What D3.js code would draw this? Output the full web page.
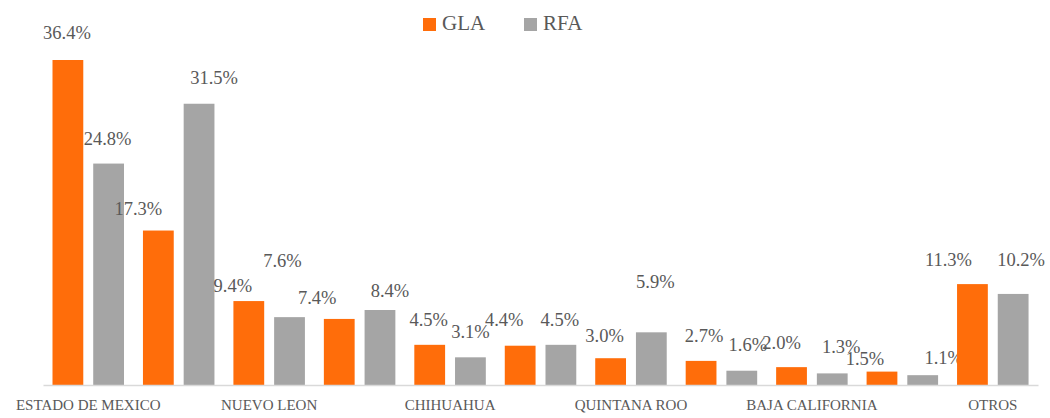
<!DOCTYPE html>
<html><head><meta charset="utf-8">
<script src="https://cdn.jsdelivr.net/npm/d3@7"></script>
<style>html,body{margin:0;padding:0;background:#fff;}svg{display:block;font-family:'Liberation Serif','Times New Roman',serif;}</style>
</head><body>
<script>
// Data
const categories = ["ESTADO DE MEXICO","JALISCO","NUEVO LEON","COAHUILA","CHIHUAHUA","QUERETARO","QUINTANA ROO","GUANAJUATO","BAJA CALIFORNIA","SONORA","OTROS"];
const seriesNames = ["GLA","RFA"];
const glaValues = [36.4,17.3,9.4,7.4,4.5,4.4,3.0,2.7,2.0,1.5,11.3];
const rfaValues = [24.8,31.5,7.6,8.4,3.1,4.5,5.9,1.6,1.3,1.1,10.2];
// label placement offsets (px) relative to bar top centre, as in the reference
const glaLabelDx = [-1,-20,-16,-22,-1,-16,-6,3,-10,-17,-24];
const glaLabelDy = [-25,-20,-13,-19,-23,-24,-20,-23,-22,-11,-22];
const rfaLabelDx = [-1,15,-7,10,0,-1,4,6,9,21,8];
const rfaLabelDy = [-23,-24,-54,-17,-24,-23,-49,-24,-25,-15,-32];

const W = 1050, H = 418;
const FONT = "'Liberation Serif','Times New Roman',serif";
const colors = {GLA:"#FF6D0A", RFA:"#A5A5A5"};
const svg = d3.select("body").append("svg").attr("width",W).attr("height",H);

const x0 = d3.scaleBand().domain(categories).range([43,1038]).paddingInner(0).paddingOuter(0);
const x1 = d3.scaleBand().domain(seriesNames).range([9.5,81]).paddingInner(0.244).paddingOuter(0);
const y = d3.scaleLinear().domain([0,36.4]).range([385,60]);

const rows = categories.map((c,i)=>({cat:c,i,
  vals:[{s:"GLA",v:glaValues[i],dx:glaLabelDx[i],dy:glaLabelDy[i]},{s:"RFA",v:rfaValues[i],dx:rfaLabelDx[i],dy:rfaLabelDy[i]}]}));

const g = svg.selectAll("g.grp").data(rows).join("g").attr("class","grp")
  .attr("transform",d=>`translate(${x0(d.cat)},0)`);
g.selectAll("rect").data(d=>d.vals).join("rect")
  .attr("x",d=>x1(d.s)).attr("width",x1.bandwidth())
  .attr("y",d=>y(d.v)).attr("height",d=>y(0)-y(d.v))
  .attr("fill",d=>colors[d.s]);

// axis
const axis = d3.axisBottom(x0).tickSize(0).tickPadding(0)
  .tickFormat((d,i)=> i%2===0 ? d : "");
const ax = svg.append("g").attr("transform",`translate(0,${y(0)})`).call(axis)
  .attr("font-family",FONT);
ax.select(".domain").attr("stroke","#D9D9D9").attr("stroke-width",1.5);
ax.selectAll("text").attr("dy",0).attr("y",22).attr("dominant-baseline","middle")
  .attr("fill","#595959").style("font-family",FONT).style("font-size","15px");

// data labels
g.selectAll("text.lbl").data(d=>d.vals).join("text").attr("class","lbl")
  .attr("x",d=>x1(d.s)+x1.bandwidth()/2+d.dx)
  .attr("y",d=>y(d.v)+d.dy)
  .attr("text-anchor","middle").attr("dominant-baseline","middle")
  .attr("fill","#595959").style("font-family",FONT).style("font-size","18.5px")
  .text(d=>d.v.toFixed(1)+"%");

// legend
const legX = d3.scaleOrdinal().domain(seriesNames).range([423,524]);
const leg = svg.selectAll("g.leg").data(seriesNames).join("g").attr("class","leg")
  .attr("transform",d=>`translate(${legX(d)},18)`);
leg.append("rect").attr("width",13).attr("height",13).attr("fill",d=>colors[d]);
leg.append("text").attr("x",19).attr("y",7.5).attr("dominant-baseline","middle")
  .attr("fill","#595959").style("font-family",FONT).style("font-size","21px")
  .text(d=>d);
</script>
</body></html>
